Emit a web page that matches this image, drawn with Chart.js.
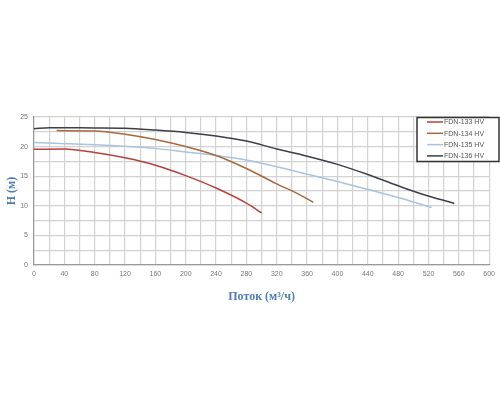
<!DOCTYPE html>
<html>
<head>
<meta charset="utf-8">
<script src="https://cdn.jsdelivr.net/npm/chart.js@4"></script>
<style>
  body { margin: 0; background: #fff; }
  #wrap { width: 500px; height: 400px; }
</style>
</head>
<body>
<div id="wrap"><canvas id="myChart" width="500" height="400"></canvas></div>
<script>
// Pump curves
const names = ['FDN-133 HV', 'FDN-134 HV', 'FDN-135 HV', 'FDN-136 HV'];

const flow133 = [0, 40, 80, 120, 160, 200, 240, 280, 300];
const head133 = [19.55, 19.6, 19.0, 18.1, 16.85, 15.1, 13.0, 10.45, 8.8];

const flow134 = [30, 80, 120, 160, 200, 240, 280, 320, 350, 368];
const head134 = [22.7, 22.65, 22.1, 21.2, 20.0, 18.5, 16.3, 13.7, 11.9, 10.6];

const flow135 = [0, 80, 120, 160, 200, 240, 280, 355, 400, 442, 486, 524];
const head135 = [20.7, 20.3, 20.05, 19.7, 19.1, 18.5, 17.75, 15.5, 14.1, 12.7, 11.2, 9.7];

const flow136 = [0, 20, 80, 120, 160, 200, 240, 280, 320, 355, 400, 442, 486, 511, 554];
const head136 = [23.0, 23.2, 23.15, 23.1, 22.8, 22.4, 21.8, 20.95, 19.6, 18.55, 17.0, 15.2, 13.1, 12.0, 10.4];

const colors = ['#b8403c', '#a8693f', '#a9c4dc', '#3b3f48'];

const toPoints = (xs, ys) => xs.map((x, i) => ({ x: x, y: ys[i] }));
const series = [
  toPoints(flow133, head133),
  toPoints(flow134, head134),
  toPoints(flow135, head135),
  toPoints(flow136, head136)
];

const data = {
  datasets: series.map((pts, i) => ({
    label: names[i],
    data: pts,
    borderColor: colors[i],
    backgroundColor: colors[i],
    borderWidth: 1.5,
    pointRadius: 0,
    cubicInterpolationMode: 'monotone',
    fill: false
  }))
};

// legend box drawn inside the plot, top right
const boxLegend = {
  id: 'boxLegend',
  afterDraw(chart) {
    const ctx = chart.ctx;
    const x0 = 417, y0 = 117.5, w = 82, h = 44;
    ctx.save();
    ctx.fillStyle = '#fff';
    ctx.fillRect(x0, y0, w, h);
    ctx.strokeStyle = '#333';
    ctx.lineWidth = 1.5;
    ctx.strokeRect(x0, y0, w, h);
    ctx.font = '7px "Liberation Sans", Arial, sans-serif';
    ctx.textBaseline = 'middle';
    chart.data.datasets.forEach((ds, i) => {
      const y = 122 + i * 11.3;
      ctx.strokeStyle = ds.borderColor;
      ctx.lineWidth = 1.5;
      ctx.beginPath();
      ctx.moveTo(427, y);
      ctx.lineTo(443, y);
      ctx.stroke();
      ctx.fillStyle = '#555';
      ctx.fillText(ds.label, 444, y + 0.5);
    });
    ctx.restore();
  }
};

const tickFont = { family: '"Liberation Sans", Arial, sans-serif', size: 7 };
const titleFont = { family: '"Liberation Serif", "DejaVu Serif", serif', size: 12, weight: 'bold' };

const config = {
  type: 'line',
  data: data,
  options: {
    responsive: false,
    animation: false,
    layout: { padding: { left: 0, top: 117, right: 10, bottom: 96 } },
    plugins: {
      legend: { display: false },
      tooltip: { enabled: false }
    },
    scales: {
      x: {
        type: 'linear',
        min: 0,
        max: 600,
        afterFit: s => { s.height = 39; },
        ticks: {
          stepSize: 20,
          autoSkip: false,
          maxRotation: 0,
          padding: 5,
          color: '#777',
          font: tickFont,
          callback: v => (v % 40 === 0 ? v : '')
        },
        grid: { color: '#d2d2d2', lineWidth: 1.2, drawTicks: false },
        border: { color: '#999', width: 1.2 },
        title: {
          display: true,
          text: 'Поток (м³/ч)',
          color: '#4f7db3',
          font: titleFont,
          padding: 0
        }
      },
      y: {
        min: 0,
        max: 25,
        afterFit: s => { s.width = 34; },
        ticks: {
          stepSize: 2.5,
          autoSkip: false,
          padding: 6,
          color: '#777',
          font: tickFont,
          callback: v => (v % 5 === 0 ? v : '')
        },
        grid: { color: '#d2d2d2', lineWidth: 1.2, drawTicks: false },
        border: { color: '#999', width: 1.2 },
        title: {
          display: true,
          text: 'H (м)',
          color: '#4f7db3',
          font: titleFont,
          padding: { top: 5 }
        }
      }
    }
  },
  plugins: [boxLegend]
};

const myChart = new Chart(document.getElementById('myChart'), config);
</script>
</body>
</html>
